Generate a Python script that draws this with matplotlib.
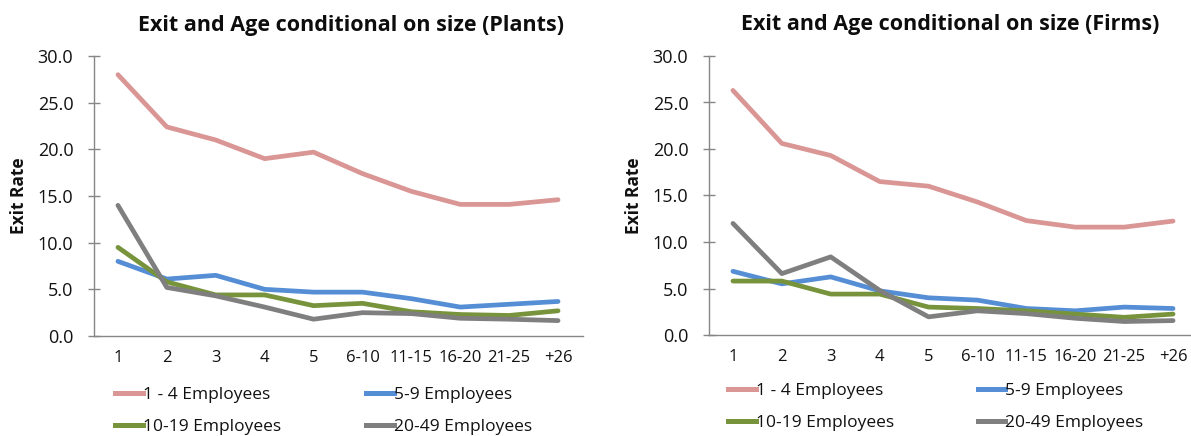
import matplotlib
matplotlib.use("Agg")
import matplotlib.pyplot as plt
from matplotlib.lines import Line2D
from matplotlib.legend import Legend

# age categories on the x axis
ages = ["1", "2", "3", "4", "5", "6-10", "11-15", "16-20", "21-25", "+26"]
series_names = ["1 - 4 Employees", "5-9 Employees", "10-19 Employees", "20-49 Employees"]
yticks = [0, 5, 10, 15, 20, 25, 30]

# exit rates, plants
plants_1_4 = [28.0, 22.4, 21.0, 19.0, 19.7, 17.4, 15.5, 14.1, 14.1, 14.6]
plants_5_9 = [8.0, 6.1, 6.5, 5.0, 4.7, 4.7, 4.0, 3.1, 3.4, 3.7]
plants_10_19 = [9.5, 5.8, 4.4, 4.4, 3.25, 3.5, 2.6, 2.3, 2.2, 2.7]
plants_20_49 = [14.0, 5.2, 4.3, 3.1, 1.8, 2.5, 2.4, 1.9, 1.8, 1.65]

# exit rates, firms
firms_1_4 = [26.3, 20.6, 19.3, 16.5, 16.0, 14.3, 12.3, 11.6, 11.6, 12.25]
firms_5_9 = [6.85, 5.5, 6.25, 4.75, 4.0, 3.75, 2.85, 2.6, 3.0, 2.85]
firms_10_19 = [5.8, 5.8, 4.4, 4.4, 3.0, 2.85, 2.6, 2.25, 1.9, 2.25]
firms_20_49 = [12.0, 6.6, 8.4, 4.8, 1.95, 2.6, 2.3, 1.8, 1.45, 1.55]

colors = ["#D99694", "#558ED5", "#77933C", "#7F7F7F"]

plt.rcParams["font.family"] = ["Open Sans", "DejaVu Sans"]

W, H = 1191, 436
fig = plt.figure(figsize=(W / 100, H / 100), dpi=100)


def fx(p):
    return p / W


def fy(p):
    return 1 - p / H


def panel(rect, title, title_xy, series, leg_x, leg_y):
    ax = fig.add_axes(rect)
    x = list(range(len(ages)))
    for vals, c in zip(series, colors):
        ax.plot(x, vals, color=c, lw=3.4, solid_capstyle="round", solid_joinstyle="round")
    ax.set_xlim(-0.5, len(ages) - 0.5)
    ax.set_ylim(0, 30)
    ax.set_yticks(yticks)
    ax.set_yticklabels(["%.1f" % v for v in yticks])
    ax.set_xticks(x)
    ax.set_xticklabels(ages)
    for s in ["top", "right"]:
        ax.spines[s].set_visible(False)
    for s in ["left", "bottom"]:
        ax.spines[s].set_color("#868686")
        ax.spines[s].set_linewidth(1.0)
    ax.tick_params(axis="y", direction="inout", length=9, width=1.0, color="#868686",
                   pad=10, labelsize=13, labelcolor="#111111")
    ax.tick_params(axis="x", length=0, pad=10, labelsize=12, labelcolor="#111111")
    ax.set_ylabel("Exit Rate", fontsize=12.5, fontweight="bold", color="#111111")
    ax.yaxis.label.set_va("center")
    ax.yaxis.set_label_coords(-74.5 / (rect[2] * W), 0.5)
    fig.text(fx(title_xy[0]), fy(title_xy[1]), title, ha="center", va="baseline",
             fontsize=15.5, fontweight="bold", color="#0d0d0d")

    # legend: two columns, each its own legend so the x positions can be set
    cols = [[0, 2], [1, 3]]
    for ci, idx in enumerate(cols):
        handles = [Line2D([], [], color=colors[i], lw=3.6) for i in idx]
        labels = [series_names[i] for i in idx]
        leg = Legend(ax, handles, labels, loc="center left",
                     bbox_to_anchor=(fx(leg_x[ci]), fy(leg_y)),
                     bbox_transform=fig.transFigure, frameon=False,
                     fontsize=12.5, handlelength=1.6, handletextpad=0,
                     borderpad=0, borderaxespad=0, labelspacing=0.9)
        for t in leg.get_texts():
            t.set_color("#111111")
        ax.add_artist(leg)
    return ax


panel([fx(93.5), fy(336), 489 / W, 280 / H],
      "Exit and Age conditional on size (Plants)", (351.5, 31),
      [plants_1_4, plants_5_9, plants_10_19, plants_20_49],
      (115, 366), 411)

panel([fx(708.5), fy(335), 489 / W, 279 / H],
      "Exit and Age conditional on size (Firms)", (950, 30),
      [firms_1_4, firms_5_9, firms_10_19, firms_20_49],
      (728, 977.7), 407)

fig.savefig("out.png", dpi=100)
